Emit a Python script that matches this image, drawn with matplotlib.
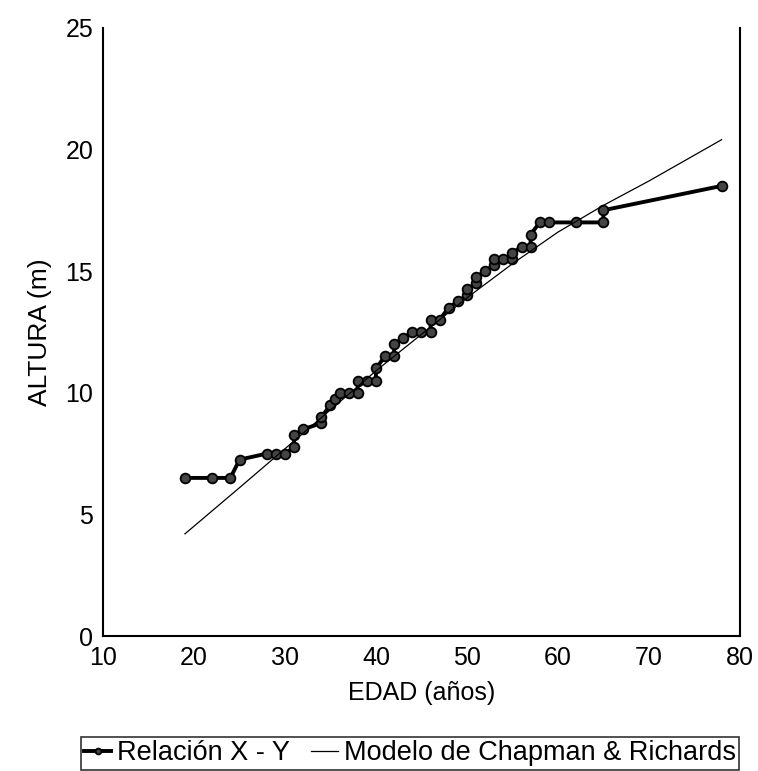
import matplotlib.pyplot as plt
import numpy as np

# observed age/height pairs
edad = [19, 22, 24, 25, 28, 29, 30, 31, 31, 32, 34, 34, 35, 35.5, 36, 37, 38, 38,
        39, 40, 40, 41, 42, 42, 43, 44, 45, 46, 46, 47, 48, 49, 50, 50, 51, 51,
        52, 53, 53, 54, 55, 55, 56, 57, 57, 58, 59, 62, 65, 65, 78]
altura = [6.5, 6.5, 6.5, 7.25, 7.5, 7.5, 7.5, 7.75, 8.25, 8.5, 8.75, 9.0, 9.5, 9.75,
          10.0, 10.0, 10.0, 10.5, 10.5, 10.5, 11.0, 11.5, 11.5, 12.0, 12.25, 12.5,
          12.5, 12.5, 13.0, 13.0, 13.5, 13.75, 14.0, 14.25, 14.5, 14.75, 15.0,
          15.25, 15.5, 15.5, 15.5, 15.75, 16.0, 16.0, 16.5, 17.0, 17.0, 17.0, 17.0,
          17.5, 18.5]

# Chapman & Richards model curve
edad_mod = [19, 25, 30, 35, 40, 45, 50, 55, 60, 65, 70, 78]
altura_mod = [4.2, 6.1, 7.7, 9.3, 10.9, 12.4, 13.9, 15.3, 16.6, 17.7, 18.7, 20.4]

plt.rcParams['font.family'] = ['Liberation Sans', 'DejaVu Sans']

fig = plt.figure(figsize=(7.58, 7.71), dpi=100)
ax = fig.add_axes([0.136, 0.175, 0.84, 0.789])

ax.plot(edad, altura, color='black', lw=2.8, marker='o', ms=7,
        mfc='#444444', mec='black', mew=1.3, label='Relación X - Y')
ax.plot(edad_mod, altura_mod, color='black', lw=0.9, label='Modelo de Chapman & Richards')

ax.set_xlim(10, 80)
ax.set_ylim(0, 25)
ax.set_xticks(range(10, 81, 10))
ax.set_yticks(range(0, 26, 5))
ax.tick_params(axis='x', length=0, labelsize=18, pad=7)
ax.tick_params(axis='y', length=0, labelsize=18, pad=7)
ax.spines['top'].set_visible(False)
for s in ['left', 'bottom', 'right']:
    ax.spines[s].set_linewidth(1.5)

ax.set_xlabel('EDAD (años)', fontsize=18, labelpad=8)
ax.set_ylabel('ALTURA (m)', fontsize=19, labelpad=10)

leg = fig.legend(loc='upper left', bbox_to_anchor=(0.107, 0.044), ncol=2,
                 fontsize=19.5, frameon=True, fancybox=False, handlelength=1.0,
                 handletextpad=0.2, columnspacing=0.8, borderaxespad=0,
                 borderpad=0.12, markerscale=0.6)
leg.get_frame().set_edgecolor('black')
leg.get_frame().set_linewidth(1.2)

fig.savefig('out.png', dpi=100)
